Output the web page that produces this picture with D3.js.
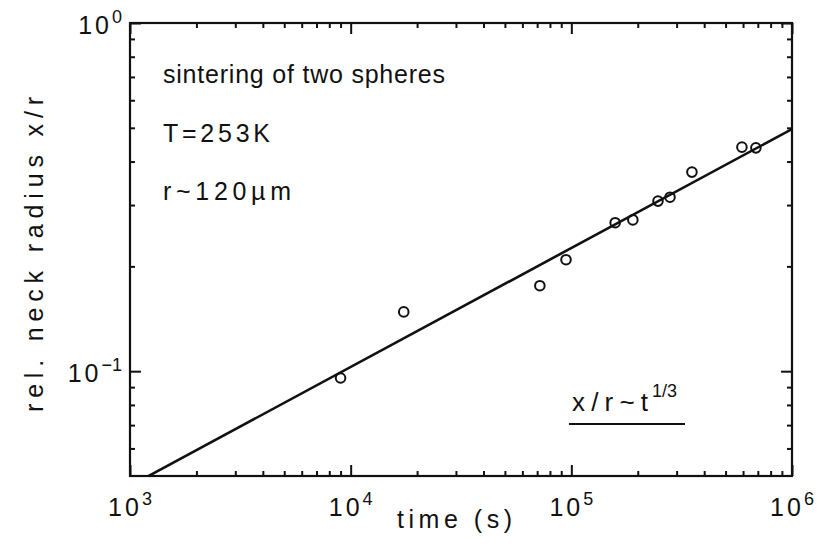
<!DOCTYPE html>
<html>
<head>
<meta charset="utf-8">
<script src="https://cdn.jsdelivr.net/npm/d3@7"></script>
<style>
  body { margin: 0; background: #fff; }
  text { font-family: "Liberation Sans", Arial, sans-serif; fill: #111; }
</style>
</head>
<body>
<div id="content"></div>
<script>
// measured neck growth of two ice spheres
var times = [9000, 17400, 72000, 94600, 158000, 190000, 247000, 280000, 352000, 593000, 686000];
var ratios = [0.0956, 0.148, 0.176, 0.209, 0.267, 0.272, 0.308, 0.316, 0.373, 0.440, 0.438];

// straight fit through the points (log-log)
var fitTimes = [1000, 1000000];
var fitRatios = [0.0468, 0.496];

var xDecades = [3, 4, 5, 6];
var yDecades = [-1, 0];

var W = 827, H = 549;
var margin = { top: 23, right: 35, bottom: 73, left: 130 },
    width = W - margin.left - margin.right,
    height = H - margin.top - margin.bottom;

var x = d3.scaleLog().domain([1e3, 1e6]).range([0, width]);
var y = d3.scaleLog().domain([0.05, 1]).range([height, 0]);

var svg = d3.select("#content").append("svg")
    .attr("width", W)
    .attr("height", H);

var g = svg.append("g")
    .attr("transform", "translate(" + margin.left + "," + margin.top + ")");

g.append("clipPath").attr("id", "clip")
  .append("rect").attr("width", width).attr("height", height);

// tick values: decades and the 2..9 in between
var xMajor = xDecades.map(function (d) { return Math.pow(10, d); });
var xMinor = [];
xDecades.slice(0, -1).forEach(function (d) {
  for (var k = 2; k < 10; k++) xMinor.push(k * Math.pow(10, d));
});
var yMajor = yDecades.map(function (d) { return Math.pow(10, d); });
var yMinor = [];
for (var k = 6; k < 10; k++) yMinor.push(k / 100);
for (var k = 2; k < 10; k++) yMinor.push(k / 10);

// ticks on all four sides, pointing into the plot
var sides = [
  { make: function () { return d3.axisBottom(x); }, t: "translate(0," + height + ")", maj: xMajor, min: xMinor },
  { make: function () { return d3.axisTop(x); }, t: null, maj: xMajor, min: xMinor },
  { make: function () { return d3.axisLeft(y); }, t: null, maj: yMajor, min: yMinor },
  { make: function () { return d3.axisRight(y); }, t: "translate(" + width + ",0)", maj: yMajor, min: yMinor }
];
sides.forEach(function (s) {
  [[s.min, -5], [s.maj, -11]].forEach(function (p) {
    var ga = g.append("g")
        .attr("transform", s.t)
        .call(s.make().tickValues(p[0]).tickSize(p[1]).tickSizeOuter(0).tickFormat(""));
    ga.select(".domain").remove();
    ga.selectAll("line").attr("stroke", "#111").attr("stroke-width", 2);
  });
});

// frame
g.append("rect")
    .attr("width", width)
    .attr("height", height)
    .attr("fill", "none")
    .attr("stroke", "#111")
    .attr("stroke-width", 2.2);

// power-of-ten labels
function powLabel(sel, exp) {
  sel.append("tspan").style("letter-spacing", "3px").text("10");
  sel.append("tspan").attr("dy", -11).style("font-size", "18px")
    .text(exp < 0 ? "\u2212" + (-exp) : exp);
}
xDecades.forEach(function (d) {
  var t = g.append("text")
      .attr("x", x(Math.pow(10, d)))
      .attr("y", height + 40)
      .attr("text-anchor", "middle")
      .style("font-size", "25px");
  powLabel(t, d);
});
yDecades.forEach(function (d) {
  var t = g.append("text")
      .attr("x", -8)
      .attr("y", y(Math.pow(10, d)) + 11)
      .attr("text-anchor", "end")
      .style("font-size", "25px");
  powLabel(t, d);
});

// spread a label over a fixed length
function spread(sel, len) {
  return sel.attr("textLength", len).attr("lengthAdjust", "spacing");
}

// axis titles
spread(g.append("text")
    .attr("x", 267)
    .attr("y", height + 52)
    .style("font-size", "25px")
    .text("time (s)"), 115);
spread(g.append("text")
    .attr("transform", "translate(-87," + (412 - margin.top) + ") rotate(-90)")
    .style("font-size", "25px")
    .text("rel. neck radius x/r"), 315);

// fitted line
var line = d3.line()
    .x(function (d) { return x(d[0]); })
    .y(function (d) { return y(d[1]); });
g.append("path")
    .datum(d3.zip(fitTimes, fitRatios))
    .attr("clip-path", "url(#clip)")
    .attr("d", line)
    .attr("fill", "none")
    .attr("stroke", "#111")
    .attr("stroke-width", 2.6);

// measurements
g.selectAll("circle.pt")
    .data(d3.zip(times, ratios))
    .enter().append("circle")
    .attr("class", "pt")
    .attr("cx", function (d) { return x(d[0]); })
    .attr("cy", function (d) { return y(d[1]); })
    .attr("r", 4.8)
    .attr("fill", "none")
    .attr("stroke", "#111")
    .attr("stroke-width", 2);

// notes in the upper left
var notes = ["sintering of two spheres", "T=253K", "r~120\u00b5m"];
var noteY = [60, 119, 177];
var noteLen = [282, 107, 128];
notes.forEach(function (s, i) {
  spread(g.append("text")
      .attr("x", 33)
      .attr("y", noteY[i])
      .style("font-size", "25px")
      .text(s), noteLen[i]);
});

// power-law note with underline
spread(g.append("text")
    .attr("x", 442)
    .attr("y", 388)
    .style("font-size", "26px")
    .text("x/r~t"), 76);
g.append("text")
    .attr("x", 522)
    .attr("y", 374)
    .style("font-size", "18px")
    .text("1/3");
g.append("line")
    .attr("x1", 439).attr("x2", 555)
    .attr("y1", 401).attr("y2", 401)
    .attr("stroke", "#111")
    .attr("stroke-width", 2.2);
</script>
</body>
</html>
